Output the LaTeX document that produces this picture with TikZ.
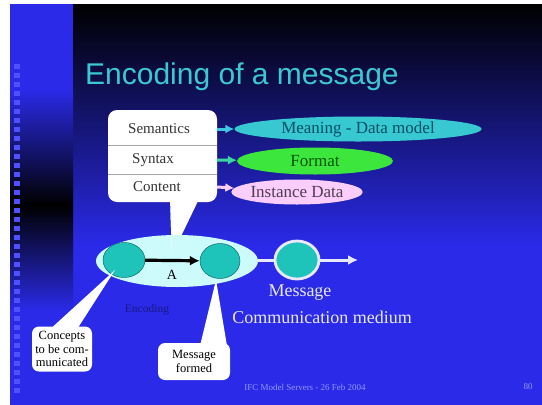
\documentclass[tikz,border=0pt]{standalone}
\usepackage{fontspec}
\setmainfont{Liberation Serif}
\newfontfamily\headfont{Liberation Sans}
\usetikzlibrary{shapes.geometric,arrows.meta}
\definecolor{slideblue}{RGB}{42,42,232}
\definecolor{stripdot}{RGB}{80,80,255}
\definecolor{titlecyan}{RGB}{60,200,210}
\definecolor{meaningfill}{RGB}{55,200,210}
\definecolor{meaningtext}{RGB}{0,80,100}
\definecolor{meaningline}{RGB}{60,200,225}
\definecolor{formatfill}{RGB}{60,230,60}
\definecolor{formattext}{RGB}{0,85,0}
\definecolor{formatline}{RGB}{60,215,160}
\definecolor{instancefill}{RGB}{250,205,250}
\definecolor{instancetext}{RGB}{80,60,80}
\definecolor{encfill}{RGB}{205,250,250}
\definecolor{dotfill}{RGB}{30,195,185}
\definecolor{paleline}{RGB}{232,232,255}
\definecolor{footblue}{RGB}{150,150,255}
\definecolor{encblue}{RGB}{25,25,130}
\begin{document}
\begin{tikzpicture}[x=1pt,y=-1pt,
        oval/.style={ellipse,inner sep=0pt},
        dot/.style={ellipse,inner sep=0pt,fill=dotfill,draw=teal!70!black,thin},
        callout/.style={rectangle,rounded corners=7pt,fill=white,inner sep=0pt,align=center,
            font=\fontsize{12.5}{13.5}\selectfont},
        rowtext/.style={anchor=west,inner sep=0pt,font=\fontsize{15}{18}\selectfont,text=black!80},
        tag/.style={-{Latex[length=9pt,width=9pt]},line width=3pt}]
    \useasboundingbox (0,0) rectangle (542,405);
    % slide background
    \fill[white] (0,0) rectangle (542,405);
    \fill[slideblue] (10,4) rectangle (542,405);
    \shade[top color=black,bottom color=slideblue] (73,4) rectangle (542,245);
    % left strip
    \shade[top color=slideblue,bottom color=black] (10,90) rectangle (73,205);
    \shade[top color=black,bottom color=slideblue] (10,205) rectangle (73,310);
    \foreach \y in {64,73,...,394} {
        \fill[stripdot] (14,\y) rectangle +(6,5);
    }
    % title
    \node[anchor=base west,inner sep=0pt,text=titlecyan,font=\headfont\fontsize{30}{36}\selectfont]
        (title) at (85,84) {Encoding of a message};
    % speech bubble with the three layers
    \node[rectangle,rounded corners=9pt,fill=white,minimum width=109pt,minimum height=92pt,inner sep=0pt]
        (card) at (162.5,156) {};
    \coordinate (tip) at (172,255);
    \fill[white] (170,199) -- (tip) -- (199,199) -- cycle;
    \draw[gray!70] (108,145) -- (217,145) (108,174) -- (217,174);
    \node[rowtext] (sem) at (128,129) {Semantics};
    \node[rowtext] (syn) at (132,160) {Syntax};
    \node[rowtext] (con) at (133,187) {Content};
    % what each layer stands for
    \node[oval,fill=meaningfill,minimum width=247pt,minimum height=25pt,text=meaningtext,
        font=\fontsize{17}{20}\selectfont] (meaning) at (358,129) {Meaning - Data model};
    \node[oval,fill=formatfill,minimum width=156pt,minimum height=27pt,text=formattext,
        font=\fontsize{17}{20}\selectfont] (format) at (315,161) {Format};
    \node[oval,fill=instancefill,minimum width=120pt,minimum height=25pt,text=instancetext,
        font=\fontsize{17}{20}\selectfont] (instance) at (297,192) {Instance Data};
    \draw[tag,meaningline] (card.east |- sem) -- (meaning);
    \draw[tag,formatline] (card.east |- syn) -- (format);
    \draw[tag,instancefill] (card.east |- con) -- (instance);
    % encoding step
    \node[oval,fill=encfill,minimum width=162pt,minimum height=52pt] (enc) at (177,261) {};
    \node[dot,minimum width=42pt,minimum height=35pt] (concept) at (124,260) {};
    \node[dot,minimum width=40pt,minimum height=35pt] (formed) at (220,261) {};
    \draw[-{Latex[length=10pt,width=10pt]},line width=3.2pt] (concept) -- (formed);
    \node[font=\fontsize{14}{16}\selectfont,inner sep=0pt] (lbla) at (172,275) {A};
    \node[text=encblue,font=\fontsize{11.5}{13}\selectfont,inner sep=0pt] (enclbl) at (147,310) {Encoding};
    \fill[white] (170,199) -- (tip) -- (172,240) -- cycle;
    % message on the medium
    \node[dot,draw=paleline,line width=2.8pt,minimum width=44pt,minimum height=38pt] (msg) at (297,260) {};
    \coordinate (out) at (358,260);
    \draw[paleline,line width=3pt] (enc.east |- msg) -- (msg);
    \draw[-{Latex[length=10pt,width=10pt]},paleline,line width=3pt] (msg) -- (out);
    \node[text=paleline,font=\fontsize{18}{20}\selectfont,inner sep=0pt] (msglbl) at (300,293) {Message};
    \node[text=paleline,font=\fontsize{18}{20}\selectfont,inner sep=0pt] (medium) at (322,317) {Communication medium};
    % callouts
    \node[callout,minimum width=60pt,minimum height=45pt] (cbox) at (62,349) {Concepts\\to be com-\\municated};
    \coordinate (ctip) at (115,270);
    \fill[white] ([xshift=-12pt,yshift=-3pt]cbox.north) -- (ctip) -- ([xshift=15pt,yshift=-3pt]cbox.north) -- cycle;
    \node[callout,minimum width=72pt,minimum height=37pt] (fbox) at (194,361.5) {Message\\formed};
    \coordinate (ftip) at (216,280);
    \fill[white] ([xshift=6pt,yshift=-3pt]fbox.north) -- (ftip) -- ([xshift=33pt,yshift=-3pt]fbox.north) -- cycle;
    % footer
    \node[text=footblue,font=\fontsize{9}{11}\selectfont,inner sep=0pt] (foot) at (305,387) {IFC Model Servers - 26 Feb 2004};
    \node[text=footblue,font=\fontsize{9}{11}\selectfont,inner sep=0pt] (page) at (528,387) {80};
\end{tikzpicture}
\end{document}
